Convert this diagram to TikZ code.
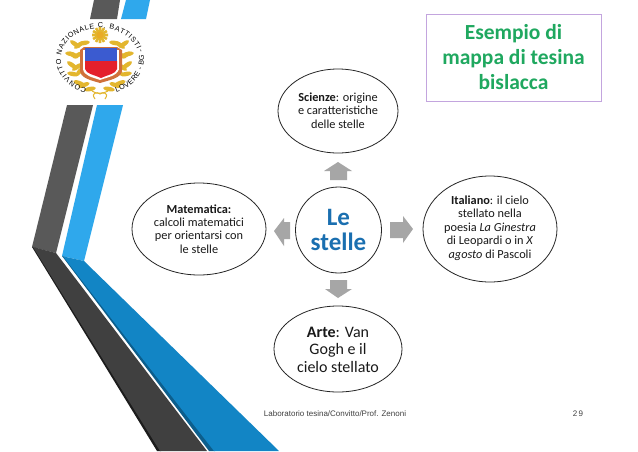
\documentclass[tikz,border=0pt]{standalone}
\usepackage{fontspec}
\setmainfont{Carlito}
\newfontfamily\arialf{Liberation Sans}
\usetikzlibrary{decorations.text}
\definecolor{darkup}{HTML}{595959}
\definecolor{darklow}{HTML}{404040}
\definecolor{darkedge}{HTML}{1C1C1C}
\definecolor{blueup}{HTML}{2FA8EC}
\definecolor{bluelow}{HTML}{1285C5}
\definecolor{blueedge}{HTML}{0C5E8C}
\definecolor{titlegreen}{HTML}{1FA85F}
\definecolor{boxpurple}{HTML}{C3A5DE}
\definecolor{centreblue}{HTML}{1A6FB0}
\definecolor{arrowgrey}{HTML}{A6A6A6}
\definecolor{gold}{HTML}{E3B62E}
\definecolor{shieldblue}{HTML}{3B5BD0}
\definecolor{shieldred}{HTML}{E4202C}
\definecolor{frameorange}{HTML}{D0703A}
\tikzset{
  oval/.style={draw=black!85,line width=0.8pt,fill=white},
  small/.style={align=center,font=\fontsize{12.3}{13.4}\selectfont,text=black!90,inner sep=0pt},
  blockarrow/.style={fill=arrowgrey,draw=none},
  leaf/.style={fill=gold,draw=none}
}
\begin{document}
\begin{tikzpicture}[x=1pt,y=-1pt]
\useasboundingbox (0,0) rectangle (638,451);
\fill[white] (0,0) rectangle (638,451);
% stripes
\fill[darkup] (94,0) -- (120,0) -- (117,19) -- (90,19) -- cycle;
\fill[blueup] (126,0) -- (150,0) -- (146,19) -- (121,19) -- cycle;
\fill[darkup] (67,105) -- (93,105) -- (56,253) -- (32,247) -- cycle;
\fill[blueup] (97,105) -- (123,105) -- (84,261) -- (62,256) -- cycle;
\fill[darkedge] (32,247) -- (36,248) -- (161,451) -- (157,451) -- cycle;
\fill[darklow] (33,247) -- (56,253) -- (207,451) -- (160,451) -- cycle;
\fill[blueedge] (62,256) -- (66,257) -- (215,451) -- (209,451) -- cycle;
\fill[bluelow] (63,256.3) -- (84,261) -- (279,451) -- (214,451) -- cycle;
% crest
\foreach \a in {0,30,...,330}{
  \fill[gold] (100,35) ++(\a:8pt) -- ++(\a+90:1.3pt) -- ++(\a+180:8pt) -- ++(\a-90:2.6pt) -- ++(\a:8pt) -- cycle;
}
\fill[gold!80!orange] (100,35) circle[radius=3.5pt];
\foreach \px/\py/\r in {
 79/45/35,75/44/145,84/43/10,73/55/150,78/55/30,71/54/170,
 72/65/145,77/67/35,80/71/50,73/74/170,84/85/20,79/83/160,90/89/10,
 120/45/145,124/44/35,115/43/170,126/55/30,121/55/150,128/54/10,
 127/65/35,122/67/145,119/71/130,126/74/10,115/85/160,120/83/20,109/89/170}{
  \fill[leaf,shift={(\px,\py)},rotate=\r] (0,0) ellipse[x radius=6pt,y radius=2.2pt];
}
\draw[gold,line width=1pt] (92,91) .. controls (96,94) and (103,94) .. (108,91);
\draw[gold,line width=1pt] (95,99) .. controls (90,92) and (98,92) .. (100,94) .. controls (102,92) and (110,92) .. (105,99);
\fill[frameorange] (80,50) -- (84,47) -- (117,47) -- (122,50) -- (122,70) .. controls (122,78) and (110,80) .. (100,83) .. controls (90,80) and (80,78) .. (80,70) -- cycle;
\fill[white] (83,50) rectangle (119,70);
\fill[white] (83,69) .. controls (84,76) and (92,77) .. (100,80) .. controls (108,77) and (117,76) .. (119,69) -- cycle;
\fill[shieldblue] (85,48) rectangle (117,61);
\fill[shieldred] (85,61) -- (117,61) -- (117,69) .. controls (116,74) and (107,75) .. (101,78) .. controls (95,75) and (86,74) .. (85,69) -- cycle;
\path[decorate,decoration={text along path,text align=fit to path,text={|\arialf\fontsize{7.2}{8}\selectfont|CONVITTO NAZIONALE C. BATTISTI}}]
  (100,59) ++(250:{39pt} and {31pt}) arc[start angle=250,end angle=18,x radius=39pt,y radius=31pt];
\path[decorate,decoration={text along path,text align=fit to path,text={|\arialf\fontsize{7.2}{8}\selectfont|LOVERE - BG -}}]
  (100,59) ++(292:{44pt} and {36pt}) arc[start angle=292,end angle=375,x radius=44pt,y radius=36pt];
% purple box
\node[draw=boxpurple,line width=1pt,minimum width=175pt,minimum height=87pt,inner sep=0pt,
  align=center,text=titlegreen,font=\bfseries\fontsize{21.5}{25}\selectfont] (title) at (513.5,57.5) {Esempio di\\mappa di tesina\\bislacca};
% arrows
\fill[blockarrow] (338,162) -- (352,171) -- (347,171) -- (347,180) -- (330,180) -- (330,171) -- (324,171) -- cycle;
\fill[blockarrow] (413,229) -- (403,216) -- (403,222) -- (390,222) -- (390,238) -- (403,238) -- (403,243) -- cycle;
\fill[blockarrow] (338,298) -- (352,289) -- (347,289) -- (347,280) -- (330,280) -- (330,289) -- (325,289) -- cycle;
\fill[blockarrow] (274,231) -- (284,218) -- (284,222) -- (290,222) -- (290,239) -- (284,239) -- (284,246) -- cycle;
% ovals
\path[oval] (338,111) circle[x radius=60pt,y radius=42pt];
\path[oval] (490,229) circle[x radius=67pt,y radius=53pt];
\path[oval] (199,229) circle[x radius=67pt,y radius=46pt];
\path[oval] (338,349) circle[x radius=64pt,y radius=43pt];
\path[oval] (338.5,230) circle[radius=43pt];
\node[align=center,inner sep=0pt,text=centreblue,font=\bfseries\fontsize{25}{25.5}\selectfont] (centre) at (338.5,230) {Le\\stelle};
\node[small] (scienze) at (338,110.5) {\textbf{Scienze}: origine\\e caratteristiche\\delle stelle};
\node[small] (italiano) at (490,228) {\textbf{Italiano}: il cielo\\stellato nella\\poesia \textit{La Ginestra}\\di Leopardi o in \textit{X}\\\textit{agosto} di Pascoli};
\node[small] (matematica) at (199,229) {\textbf{Matematica:}\\calcoli matematici\\per orientarsi con\\le stelle};
\node[align=center,inner sep=0pt,text=black!90,font=\fontsize{16}{17.5}\selectfont] (arte) at (338,349.5) {\textbf{Arte}: Van\\Gogh e il\\cielo stellato};
\node[inner sep=0pt,text=black!75,font=\arialf\fontsize{8}{10}\selectfont] (footer) at (335,414) {Laboratorio tesina/Convitto/Prof. Zenoni};
\node[inner sep=0pt,text=black!75,font=\arialf\fontsize{8}{10}\selectfont] (page) at (578,414) {2\kern1.5pt 9};
\end{tikzpicture}
\end{document}
